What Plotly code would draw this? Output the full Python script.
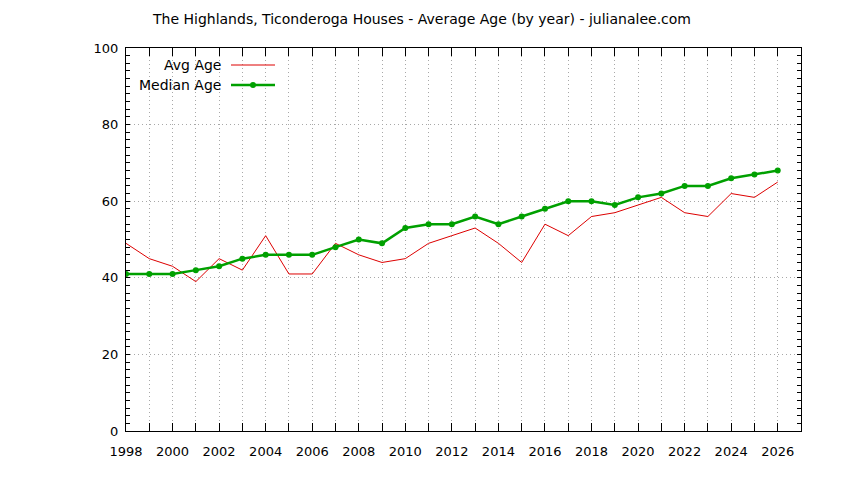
import plotly.graph_objects as go

years = list(range(1998, 2027))
avg_age = [49, 45, 43, 39, 45, 42, 51, 41, 41, 49, 46, 44, 45, 49, 51, 53, 49, 44,
           54, 51, 56, 57, 59, 61, 57, 56, 62, 61, 65]
median_age = [41, 41, 41, 42, 43, 45, 46, 46, 46, 48, 50, 49, 53, 54, 54, 56, 54, 56,
              58, 60, 60, 59, 61, 62, 64, 64, 66, 67, 68]
x_tickvals = list(range(1998, 2027, 2))
y_tickvals = list(range(0, 101, 20))

RED = "#dd0000"
GREEN = "#00a000"
FONT = "DejaVu Sans"
GRID = "#a8a8a8"

fig = go.Figure()
fig.add_trace(go.Scatter(x=years, y=avg_age, mode="lines", name="Avg Age",
                         line=dict(color=RED, width=1), showlegend=False))
fig.add_trace(go.Scatter(x=years, y=median_age, mode="lines+markers", name="Median Age",
                         line=dict(color=GREEN, width=2.5),
                         marker=dict(color=GREEN, size=6), showlegend=False))

W, H = 844, 480
L, R, T, B = 126, 43, 48, 49
pw, ph = W - L - R, H - T - B

def px(x):
    return (x - L) / pw

def py(y):
    return 1 - (y - T) / ph

# manual gnuplot-style legend
legend_rows = [("Avg Age", RED, 1, False), ("Median Age", GREEN, 2.5, True)]
for i, (label, col, w, mk) in enumerate(legend_rows):
    yy = 65 + i * 20
    fig.add_annotation(x=px(223), y=py(yy), xref="paper", yref="paper", text=label,
                       showarrow=False, xanchor="right", yanchor="middle",
                       font=dict(family=FONT, size=14, color="black"))
    fig.add_shape(type="line", xref="paper", yref="paper", x0=px(231), x1=px(275),
                  y0=py(yy), y1=py(yy), line=dict(color=col, width=w))
    if mk:
        fig.add_shape(type="circle", xref="paper", yref="paper",
                      x0=px(250), x1=px(256), y0=py(yy + 3), y1=py(yy - 3),
                      fillcolor=col, line=dict(color=col, width=0))

fig.update_layout(
    width=W, height=H,
    margin=dict(l=L, r=R, t=T, b=B),
    paper_bgcolor="white", plot_bgcolor="white",
    font=dict(family=FONT, size=13, color="black"),
    title=dict(text="The Highlands, Ticonderoga Houses - Average Age (by year) - julianalee.com",
               x=0.5, xanchor="center", y=1 - 19 / H, yanchor="middle",
               font=dict(family=FONT, size=14, color="black")),
)
fig.update_xaxes(range=[1998, 2027], tickvals=x_tickvals, ticks="inside", ticklen=8,
                 tickcolor="black", showline=True, linecolor="black", linewidth=1,
                 mirror="ticks", showgrid=True, gridcolor=GRID, griddash="1px,3px",
                 gridwidth=1, zeroline=False, ticklabelstandoff=8,
                 minor=dict(dtick=1, ticks="inside", ticklen=8, tickcolor="black",
                            showgrid=True, gridcolor=GRID, griddash="1px,3px"),
                 tickfont=dict(family=FONT, size=13, color="black"))
fig.update_yaxes(range=[0, 100], tickvals=y_tickvals, ticks="inside", ticklen=4,
                 tickcolor="black", showline=True, linecolor="black", linewidth=1,
                 mirror="ticks", showgrid=True, gridcolor=GRID, griddash="1px,3px",
                 gridwidth=1, zeroline=False, ticklabelstandoff=4,
                 minor=dict(dtick=2, ticks="inside", ticklen=4, tickcolor="black",
                            showgrid=False),
                 tickfont=dict(family=FONT, size=13, color="black"))

fig.write_html("out.html", config={"displayModeBar": False})

# remove the default page margin so the figure sits at the window's top-left corner
with open("out.html", "r", encoding="utf-8") as f:
    html = f.read()
html = html.replace("<head>", "<head><style>html,body{margin:0;padding:0;}</style>", 1)
with open("out.html", "w", encoding="utf-8") as f:
    f.write(html)
